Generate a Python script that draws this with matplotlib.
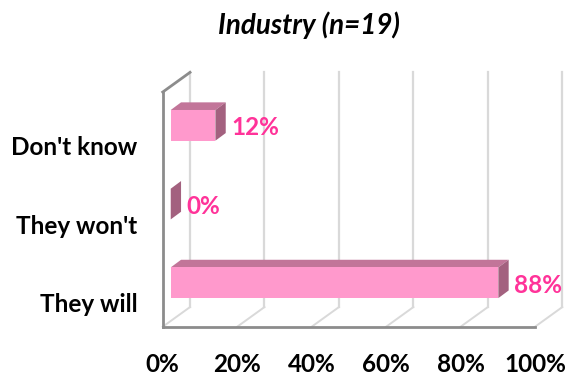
import matplotlib.pyplot as plt
from matplotlib.patches import Polygon, Rectangle

# survey answers, bottom to top
categories = ['They will', "They won't", "Don't know"]
shares = [88, 0, 12]
ticks = [0, 20, 40, 60, 80, 100]
tick_labels = ['0%', '20%', '40%', '60%', '80%', '100%']
title = 'Industry (n=19)'

plt.rcParams['font.family'] = ['Lato', 'DejaVu Sans']

fig = plt.figure(figsize=(5.67, 3.76), dpi=100)
ax = fig.add_axes([0.287, 0.131, 0.6566, 0.6242])
floor, top = -0.559, 2.423
ax.set_xlim(0, 100)
ax.set_ylim(floor, top)

# fake 3D: depth offset of the walls and of the bars
wall_dx, wall_dy = 7.33, 0.250
bar_off = 2.15
bar_dx, bar_dy = 2.77, 0.097
bar_h = 0.39

front_col = '#ff99cc'
top_col = '#c27599'
side_col = '#a3617f'
grid_col = '#d9d9d9'
frame_col = '#8c8c8c'

# back wall gridlines and floor diagonals
for t in ticks:
    ax.plot([t + wall_dx] * 2, [floor + wall_dy, top + wall_dy],
            color=grid_col, lw=1.6, clip_on=False, zorder=1)
    ax.plot([t, t + wall_dx], [floor, floor + wall_dy],
            color=grid_col, lw=1.4, clip_on=False, zorder=1)

# left wall front edges and floor front edge
ax.plot([0, 0], [floor, top], color=frame_col, lw=2, clip_on=False, zorder=2)
ax.plot([0, wall_dx], [top, top + wall_dy], color=frame_col, lw=2,
        clip_on=False, zorder=2)
ax.plot([0, ticks[-1]], [floor, floor], color=frame_col, lw=2,
        clip_on=False, zorder=2)

for i, v in enumerate(shares):
    x0, x1 = bar_off, bar_off + v
    y0, y1 = i - bar_h / 2, i + bar_h / 2
    ax.add_patch(Polygon([(x0, y1), (x1, y1), (x1 + bar_dx, y1 + bar_dy),
                          (x0 + bar_dx, y1 + bar_dy)],
                         closed=True, fc=top_col, ec='none', zorder=3))
    ax.add_patch(Polygon([(x1, y0), (x1, y1), (x1 + bar_dx, y1 + bar_dy),
                          (x1 + bar_dx, y0 + bar_dy)],
                         closed=True, fc=side_col, ec='none', zorder=3))
    if v > 0:
        ax.add_patch(Rectangle((x0, y0), v, bar_h, fc=front_col, ec='none',
                               zorder=4))
    ax.text(x1 + 4.3, i - 0.03, f'{v}%', color='#ff3399', fontsize=17.5,
            fontweight='bold', ha='left', va='center', zorder=5)

ax.set_xticks(ticks, tick_labels)
ax.set_yticks([i - 0.255 for i in range(len(categories))], categories)
ax.tick_params(length=0, labelsize=17.5)
ax.tick_params(axis='x', pad=19)
ax.tick_params(axis='y', pad=18)
for lab in ax.get_xticklabels() + ax.get_yticklabels():
    lab.set_fontweight('bold')
for s in ax.spines.values():
    s.set_visible(False)
ax.set_facecolor('none')

fig.text(0.545, 1 - 25 / 376, title, ha='center', va='center', fontsize=20,
         fontweight='bold', fontstyle='italic')

fig.savefig('out.png', dpi=100)
